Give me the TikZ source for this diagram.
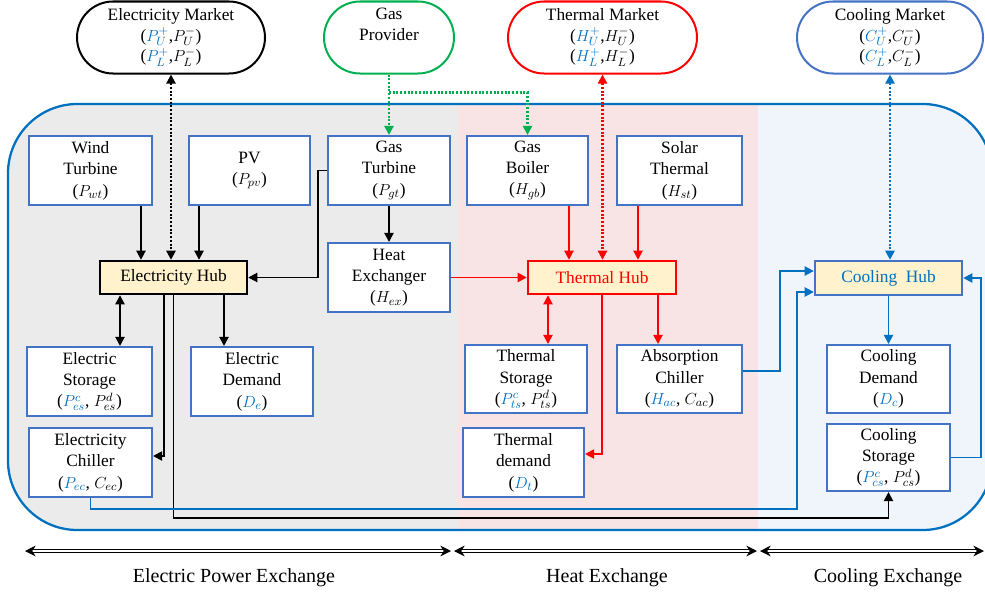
\documentclass[tikz,border=0pt]{standalone}
\usepackage{fontspec}
\setmainfont{Liberation Serif}
\usetikzlibrary{arrows.meta}

% one unit of the drawing grid
\newdimen\pxu \pxu=0.75pt

\definecolor{boxblue}{HTML}{4472C4}
\definecolor{lineblue}{HTML}{0070C0}
\definecolor{symblue}{HTML}{0070C0}
\definecolor{hubfill}{HTML}{FFF2CC}
\definecolor{elecbg}{HTML}{EBEBEB}
\definecolor{heatbg}{HTML}{F8E4E4}
\definecolor{coolbg}{HTML}{F0F5FB}
\definecolor{gasgreen}{HTML}{00B050}
\definecolor{hotred}{HTML}{FF0000}

\newcommand\labfont{\fontsize{13}{16}\selectfont}
\newcommand\mktfont{\fontsize{13}{15.4}\selectfont}
\newcommand\bl[1]{\textcolor{symblue}{$#1$}}

\tikzset{
  sz/.style 2 args={minimum width=#1\pxu, minimum height=#2\pxu},
  box/.style={draw=boxblue, line width=1.5pt, fill=white, align=center,
              font=\labfont, inner sep=1pt},
  hub/.style={line width=1.8pt, fill=hubfill, align=center, font=\labfont, inner sep=1pt},
  market/.style={line width=1.5pt, fill=white, rounded corners=27pt, align=center,
                 font=\mktfont, inner sep=1pt},
  conn/.style={line width=1.4pt},
  dotline/.style={line width=1.6pt, dash pattern=on 1.5pt off 1.3pt},
  xarrow/.style={double=white, double distance=1.5pt, line width=0.9pt,
                 {Stealth[length=8pt,width=8pt]}-{Stealth[length=8pt,width=8pt]}},
  zone/.style={font=\fontsize{15}{18}\selectfont},
  >={Triangle[length=6.8pt,width=6.8pt]}
}

\begin{document}
\begin{tikzpicture}[x=0.75pt,y=-0.75pt]
\useasboundingbox (0,0) rectangle (985,596);

% shaded exchange zones inside the rounded frame
\begin{scope}
  \clip[rounded corners=52pt] (8,104) rectangle (992,530);
  \fill[elecbg] (0,90) rectangle (458,540);
  \fill[heatbg] (458,90) rectangle (758,540);
  \fill[coolbg] (758,90) rectangle (1000,540);
\end{scope}
\draw[lineblue, line width=1.7pt, rounded corners=52pt] (8,104) rectangle (992,530);

% markets and provider
\node[market, draw=black, sz={188}{72}] (em) at (171,37.5)
  {Electricity Market\\(\bl{P_U^+},$P_U^-$)\\(\bl{P_L^+},$P_L^-$)};
\node[market, draw=gasgreen, sz={130}{72}] (gp) at (389,37.5)
  {Gas\\Provider\\\strut};
\node[market, draw=hotred, sz={189}{72}] (tm) at (602.5,37.5)
  {Thermal Market\\(\bl{H_U^+},$H_U^-$)\\(\bl{H_L^+},$H_L^-$)};
\node[market, draw=boxblue, sz={186}{72}] (cm) at (890,37.5)
  {Cooling Market\\(\bl{C_U^+},$C_U^-$)\\(\bl{C_L^+},$C_L^-$)};

% sources
\node[box, sz={123}{69}] (wt) at (90.5,170.5) {Wind\\Turbine\\($P_{wt}$)};
\node[box, sz={121}{69}] (pv) at (249.5,170.5) {PV\\($P_{pv}$)};
\node[box, sz={122}{69}] (gt) at (389,170.5) {Gas\\Turbine\\($P_{gt}$)};
\node[box, sz={121}{69}] (gb) at (527.5,170.5) {Gas\\Boiler\\($H_{gb}$)};
\node[box, sz={125}{69}] (st) at (679.5,170.5) {Solar\\Thermal\\($H_{st}$)};
\node[box, sz={122}{69}] (he) at (389,277.5) {Heat\\Exchanger\\($H_{ex}$)};

% hubs
\node[hub, draw=black, sz={147}{33}] (eh) at (173.5,277.5) {Electricity Hub};
\node[hub, draw=hotred, text=hotred, sz={148}{33}] (th) at (602,277.5) {Thermal Hub};
\node[hub, draw=boxblue, text=lineblue, sz={147}{34}] (ch) at (888.5,278) {Cooling\ \ Hub};

% storages, demands and chillers
\node[box, sz={125}{69}] (es) at (89.5,381.5) {Electric\\Storage\\(\bl{P^c_{es}}, $P^d_{es}$)};
\node[box, sz={122}{69}] (ed) at (252,381.5) {Electric\\Demand\\(\bl{D_e})};
\node[box, sz={123}{69}] (ec) at (90.5,462.5) {Electricity\\Chiller\\(\bl{P_{ec}}, $C_{ec}$)};
\node[box, sz={122}{68}] (ts) at (526,379) {Thermal\\Storage\\(\bl{P^c_{ts}}, $P^d_{ts}$)};
\node[box, sz={125}{68}] (ac) at (679.5,379) {Absorption\\Chiller\\(\bl{H_{ac}}, $C_{ac}$)};
\node[box, sz={121}{69}] (td) at (523.5,462.5) {Thermal\\demand\\(\bl{D_t})};
\node[box, sz={123}{68}] (cd) at (888.5,379) {Cooling\\Demand\\(\bl{D_c})};
\node[box, sz={123}{67}] (cs) at (888.5,457.5) {Cooling\\Storage\\(\bl{P^c_{cs}}, $P^d_{cs}$)};

% market links
\draw[dotline, black, <->] (em.south) -- (em.south |- eh.north);
\draw[dotline, hotred, <->] (tm.south) -- (tm.south |- th.north);
\draw[dotline, lineblue, <->] (cm.south) -- (cm.south |- ch.north);
\coordinate (gsplit) at ([yshift=-18\pxu]gp.south);
\draw[dotline, gasgreen, ->] (gp.south) -- (gt.north);
\draw[dotline, gasgreen, ->] (gsplit) -| (gb.north);

% electricity flows
\draw[conn, ->] ([xshift=50.5\pxu]wt.south) -- ([xshift=50.5\pxu]wt.south |- eh.north);
\draw[conn, ->] ([xshift=-50.5\pxu]pv.south) -- ([xshift=-50.5\pxu]pv.south |- eh.north);
\draw[conn, ->] (gt.west) -- ++(-9,0) |- (eh.east);
\draw[conn, ->] (gt.south) -- (he.north);
\draw[conn, <->] ([xshift=-53.5\pxu]eh.south) -- ([xshift=-53.5\pxu]eh.south |- es.north);
\draw[conn, ->] ([xshift=50.5\pxu]eh.south) -- ([xshift=50.5\pxu]eh.south |- ed.north);
\draw[conn, ->] ([xshift=-9.5\pxu]eh.south) |- ([yshift=6.5\pxu]ec.east);
\draw[conn, ->] (eh.south) -- ++(0,223) -| (cs.south);

% heat flows
\draw[conn, hotred, ->] ([xshift=41.5\pxu]gb.south) -- ([xshift=41.5\pxu]gb.south |- th.north);
\draw[conn, hotred, ->] ([xshift=-41.5\pxu]st.south) -- ([xshift=-41.5\pxu]st.south |- th.north);
\draw[conn, hotred, ->] (he.east) -- (th.west);
\draw[conn, hotred, <->] ([xshift=-54\pxu]th.south) -- ([xshift=-54\pxu]th.south |- ts.north);
\draw[conn, hotred, ->] (th.south) |- ([yshift=8.5\pxu]td.east);
\draw[conn, hotred, ->] ([xshift=56\pxu]th.south) -- ([xshift=56\pxu]th.south |- ac.north);

% cooling flows
\draw[conn, lineblue, ->] ([yshift=8\pxu]ac.east) -- ++(37,0) |- ([yshift=7\pxu]ch.west);
\draw[conn, lineblue, ->] (ec.south) -- ++(0,11) -| ([xshift=-17\pxu,yshift=-14\pxu]ch.west) -- ([yshift=-14\pxu]ch.west);
\draw[conn, lineblue, ->] (cs.east) -- ++(30,0) |- (ch.east);
\draw[conn, lineblue, ->] (ch.south) -- (cd.north);

% exchange spans
\coordinate (x0) at (25,551);
\coordinate (x1) at (451,551);
\coordinate (x2) at (454,551);
\coordinate (x3) at (757,551);
\coordinate (x4) at (760,551);
\coordinate (x5) at (984,551);
\draw[xarrow] (x0) -- (x1);
\draw[xarrow] (x2) -- (x3);
\draw[xarrow] (x4) -- (x5);
\node[zone] (z1) at (234,578) {Electric Power Exchange};
\node[zone] (z2) at (607,578) {Heat Exchange};
\node[zone] (z3) at (888,578) {Cooling\ Exchange};
\end{tikzpicture}
\end{document}
